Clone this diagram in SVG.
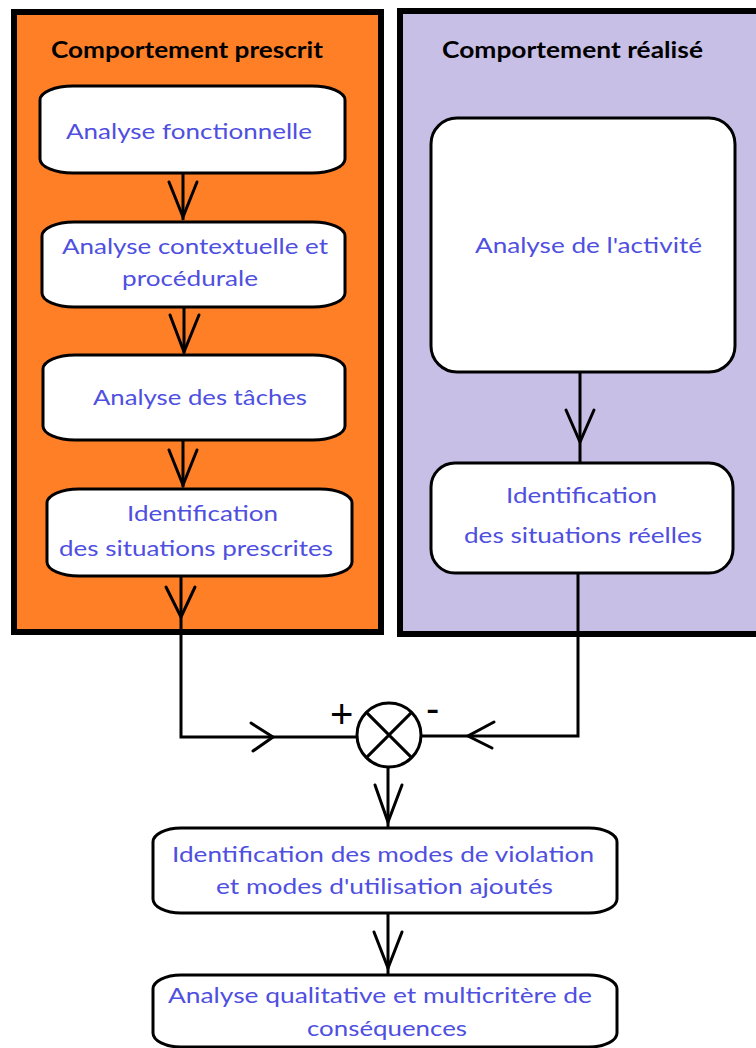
<svg xmlns="http://www.w3.org/2000/svg" width="756" height="1048" viewBox="0 0 756 1048">
<style>
.panel{stroke:#000;stroke-width:6}
.node{fill:#fff;stroke:#000;stroke-width:3}
.lbl{font-family:Lato,"Open Sans","Liberation Sans",sans-serif;font-size:22px;fill:#4f4fe0}
.ttl{font-family:Lato,"Open Sans","Liberation Sans",sans-serif;font-size:22px;font-weight:bold;fill:#000}
.ln{fill:none;stroke:#000;stroke-width:3;stroke-linejoin:miter}
.ah{fill:none;stroke:#000;stroke-width:3;stroke-linecap:round;stroke-linejoin:miter}
.sgn{font-family:"Liberation Sans",Arial,sans-serif;font-size:40px;fill:#000}
</style>
<rect width="756" height="1048" fill="#fff"/>
<g id="panel-prescrit">
<rect class="panel" x="14" y="12" width="367" height="620" fill="#ff7f27"/>
<text class="ttl" x="51" y="58" textLength="272" lengthAdjust="spacingAndGlyphs">Comportement prescrit</text>
</g>
<g id="panel-realise">
<rect class="panel" x="400" y="11" width="370" height="623" fill="#c8bfe7"/>
<text class="ttl" x="442" y="58" textLength="261" lengthAdjust="spacingAndGlyphs">Comportement réalisé</text>
</g>
<g id="connectors">
<path class="ln" d="M183 173V220"/>
<path class="ah" d="M169 182L183 217L197 182"/>
<path class="ln" d="M184 307V353"/>
<path class="ah" d="M170 315L184 352L199 315"/>
<path class="ln" d="M183 440V487"/>
<path class="ah" d="M169 450L183 485L197 450"/>
<path class="ln" d="M181 576V737H357"/>
<path class="ah" d="M166 587L181 617L195 587"/>
<path class="ah" d="M251 723L273 737L253 751"/>
<path class="ln" d="M580 372V463"/>
<path class="ah" d="M566 410L580 442L594 410"/>
<path class="ln" d="M578 573V736H421"/>
<path class="ah" d="M494 722L468 736L492 748"/>
<path class="ln" d="M388 767V828"/>
<path class="ah" d="M375 785L388 822L402 785"/>
<path class="ln" d="M388 913V975"/>
<path class="ah" d="M374 932L388 968L402 932"/>
</g>
<g id="comparateur">
<circle cx="389" cy="735" r="32" fill="#fff" stroke="#000" stroke-width="3"/>
<path class="ln" d="M366.4 712.4L411.6 757.6M411.6 712.4L366.4 757.6"/>
<text class="sgn" x="330" y="728">+</text>
<text class="sgn" x="426" y="722" font-size="38">-</text>
</g>
<g id="n-fonctionnelle">
<rect class="node" x="40" y="86" width="305" height="87" rx="33" ry="14"/>
<text class="lbl" x="66" y="139" textLength="246" lengthAdjust="spacingAndGlyphs">Analyse fonctionnelle</text>
</g>
<g id="n-contextuelle">
<rect class="node" x="42" y="222" width="303" height="85" rx="32" ry="14"/>
<text class="lbl" x="62" y="254" textLength="266" lengthAdjust="spacingAndGlyphs">Analyse contextuelle et</text>
<text class="lbl" x="122" y="286" textLength="136" lengthAdjust="spacingAndGlyphs">procédurale</text>
</g>
<g id="n-taches">
<rect class="node" x="43" y="355" width="302" height="85" rx="32" ry="14"/>
<text class="lbl" x="93" y="405" textLength="214" lengthAdjust="spacingAndGlyphs">Analyse des tâches</text>
</g>
<g id="n-prescrites">
<rect class="node" x="47" y="489" width="305" height="87" rx="32" ry="14"/>
<text class="lbl" x="127" y="521" textLength="151" lengthAdjust="spacingAndGlyphs">Identification</text>
<text class="lbl" x="59" y="556" textLength="274" lengthAdjust="spacingAndGlyphs">des situations prescrites</text>
</g>
<g id="n-activite">
<rect class="node" x="431" y="118" width="304" height="254" rx="26" ry="26"/>
<text class="lbl" x="475" y="253" textLength="227" lengthAdjust="spacingAndGlyphs">Analyse de l'activité</text>
</g>
<g id="n-reelles">
<rect class="node" x="431" y="463" width="302" height="110" rx="24" ry="24"/>
<text class="lbl" x="506" y="503" textLength="151" lengthAdjust="spacingAndGlyphs">Identification</text>
<text class="lbl" x="464" y="543" textLength="238" lengthAdjust="spacingAndGlyphs">des situations réelles</text>
</g>
<g id="n-violation">
<rect class="node" x="153" y="828" width="464" height="85" rx="28" ry="14"/>
<text class="lbl" x="172" y="862" textLength="422" lengthAdjust="spacingAndGlyphs">Identification des modes de violation</text>
<text class="lbl" x="216" y="894" textLength="337" lengthAdjust="spacingAndGlyphs">et modes d'utilisation ajoutés</text>
</g>
<g id="n-consequences">
<rect class="node" x="153" y="975" width="464" height="72" rx="28" ry="14"/>
<text class="lbl" x="168" y="1003" textLength="424" lengthAdjust="spacingAndGlyphs">Analyse qualitative et multicritère de</text>
<text class="lbl" x="307" y="1036" textLength="160" lengthAdjust="spacingAndGlyphs">conséquences</text>
</g>
</svg>
